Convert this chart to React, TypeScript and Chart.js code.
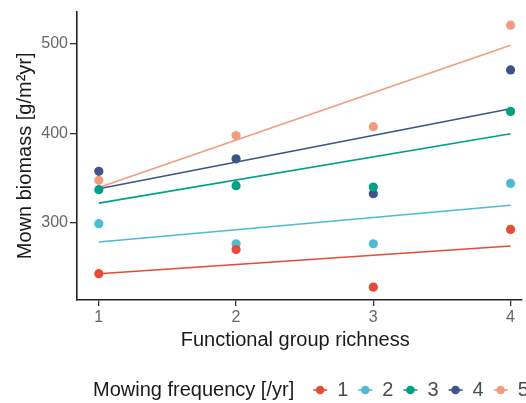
import React, { useEffect, useRef } from "react";
import { Chart, registerables } from "chart.js";

Chart.register(...registerables);

const richness = [1, 2, 3, 4];
const frequencyLabels = ["1", "2", "3", "4", "5"];
const seriesColors = ["#E64B35", "#4DBBD5", "#00A087", "#3C5488", "#F39B7F"];

const biomassFreq1 = [243, 270, 228, 292.5];
const biomassFreq2 = [299, 276.5, 276.5, 344];
const biomassFreq3 = [337, 341.5, 340, 424.5];
const biomassFreq4 = [357.5, 371.5, 332.5, 471];
const biomassFreq5 = [347.5, 397.5, 407.5, 521];
const biomassSeries = [biomassFreq1, biomassFreq2, biomassFreq3, biomassFreq4, biomassFreq5];

// fitted trend values at richness 1 and 4
const fitAtRichness1 = [243, 278.5, 322, 338, 339.5];
const fitAtRichness4 = [274, 319.5, 399.5, 427.5, 498.5];

const yTickValues = [300, 400, 500];
const xTickValues = [1, 2, 3, 4];

const xTitle = "Functional group richness";
const yTitle = "Mown biomass [g/m²yr]";
const legendTitle = "Mowing frequency [/yr]";

const FONT = "'Liberation Sans', Arial, Helvetica, sans-serif";

export default function App() {
  const ref = useRef<HTMLCanvasElement | null>(null);

  useEffect(() => {
    if (!ref.current) return;
    const datasets: any[] = [];
    biomassSeries.forEach((vals, i) => {
      datasets.push({
        type: "line",
        label: "fit" + frequencyLabels[i],
        data: [
          { x: richness[0], y: fitAtRichness1[i] },
          { x: richness[richness.length - 1], y: fitAtRichness4[i] },
        ],
        borderColor: seriesColors[i],
        borderWidth: 1.6,
        pointRadius: 0,
        fill: false,
        order: 2,
      });
    });
    biomassSeries.forEach((vals, i) => {
      datasets.push({
        type: "scatter",
        label: frequencyLabels[i],
        data: vals.map((v, j) => ({ x: richness[j], y: v })),
        backgroundColor: seriesColors[i],
        borderColor: seriesColors[i],
        borderWidth: 0,
        pointRadius: 4.6,
        order: 1,
      });
    });

    const titlesPlugin = {
      id: "titlesAndLegend",
      afterDraw(chart: any) {
        const ctx = chart.ctx;
        const area = chart.chartArea;
        ctx.save();
        ctx.fillStyle = "#1a1a1a";
        ctx.font = `20px ${FONT}`;
        ctx.textBaseline = "middle";
        // x title
        ctx.textAlign = "center";
        ctx.fillText(xTitle, (area.left + area.right) / 2 - 4, 340);
        // y title
        ctx.save();
        ctx.translate(25, (area.top + area.bottom) / 2);
        ctx.rotate(-Math.PI / 2);
        ctx.fillText(yTitle, 0, 0);
        ctx.restore();
        // legend
        ctx.textAlign = "left";
        const ly = 390;
        ctx.fillText(legendTitle, 93, ly);
        let x = 93 + ctx.measureText(legendTitle).width;
        frequencyLabels.forEach((lab, i) => {
          const mc = x + 26;
          ctx.strokeStyle = seriesColors[i];
          ctx.lineWidth = 1.6;
          ctx.beginPath();
          ctx.moveTo(mc - 7, ly);
          ctx.lineTo(mc + 7, ly);
          ctx.stroke();
          ctx.fillStyle = seriesColors[i];
          ctx.beginPath();
          ctx.arc(mc, ly, 4.3, 0, Math.PI * 2);
          ctx.fill();
          ctx.fillStyle = "#4d4d4d";
          const lx = mc + 17;
          ctx.fillText(lab, lx, ly);
          x = lx + ctx.measureText(lab).width - 9;
        });
        ctx.restore();
      },
    };

    const chart = new Chart(ref.current, {
      type: "scatter",
      data: { datasets },
      options: {
        animation: false,
        responsive: false,
        layout: { padding: { top: 10, right: 0, bottom: 0, left: 0 } },
        plugins: { legend: { display: false }, tooltip: { enabled: false } },
        scales: {
          x: {
            type: "linear",
            min: 0.841,
            max: 4.079,
            afterBuildTicks: (s: any) => {
              s.ticks = xTickValues.map((v) => ({ value: v }));
            },
            afterFit: (s: any) => {
              s.height = 103;
            },
            grid: { drawOnChartArea: false, drawTicks: true, tickLength: 6, color: "#333", lineWidth: 1.3 },
            border: { display: true, color: "#222", width: 1.6 },
            ticks: {
              color: "#666",
              font: { family: FONT, size: 16 },
              padding: 2,
              maxRotation: 0,
              callback: (v: any) => String(v),
            },
          },
          y: {
            type: "linear",
            min: 213.6,
            max: 536.2,
            afterBuildTicks: (s: any) => {
              s.ticks = yTickValues.map((v) => ({ value: v }));
            },
            afterFit: (s: any) => {
              s.width = 77;
            },
            grid: { drawOnChartArea: false, drawTicks: true, tickLength: 7, color: "#333", lineWidth: 1.3 },
            border: { display: true, color: "#222", width: 1.6 },
            ticks: {
              color: "#666",
              font: { family: FONT, size: 16 },
              padding: 2,
              callback: (v: any) => String(v),
            },
          },
        },
      },
      plugins: [titlesPlugin],
    } as any);
    return () => chart.destroy();
  }, []);

  return (
    <div style={{ position: "absolute", left: 0, top: 0, width: 526, height: 403, background: "#fff" }}>
      <canvas ref={ref} width={526} height={403} />
    </div>
  );
}
